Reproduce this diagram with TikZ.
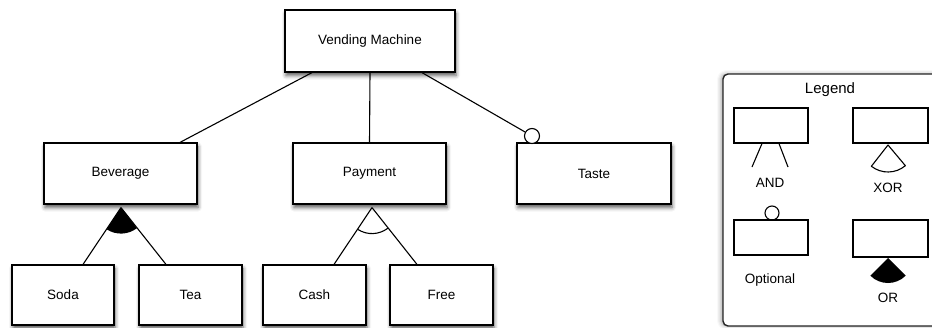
\documentclass[tikz,border=0pt]{standalone}
\usepackage{fontspec}
\setmainfont{Liberation Sans}
\usetikzlibrary{calc,shadows.blur}
\tikzset{
  feat/.style={draw=black, line width=1.2pt, fill=white, inner sep=0pt,
    font=\fontsize{13.5}{15}\selectfont,
    blur shadow={shadow xshift=1pt, shadow yshift=-3.5pt, shadow blur radius=4pt, shadow opacity=65}},
  legbox/.style={draw=black, line width=1.1pt, fill=white, inner sep=0pt, minimum width=74pt, minimum height=35pt},
  lbl/.style={font=\fontsize{13.5}{15}\selectfont, inner sep=0pt},
  conn/.style={line width=1.1pt, black},
  optc/.style={circle, draw=black, line width=1.1pt, fill=white, minimum size=15pt, inner sep=0pt},
}
\begin{document}
\begin{tikzpicture}[x=1pt,y=-1pt]
\useasboundingbox (0,0) rectangle (932,327);
% main nodes
\node[feat, minimum width=170pt, minimum height=62pt] (vm) at (370,41) {Vending Machine};
\node[feat, minimum width=153pt, minimum height=61pt] (bev) at (120.5,173.5) {Beverage};
\node[feat, minimum width=153pt, minimum height=61pt] (pay) at (369.5,173.5) {Payment};
\node[feat, minimum width=154pt, minimum height=61pt] (taste) at (594,173.5) {Taste};
\node[feat, minimum width=102pt, minimum height=60pt] (soda) at (63,295) {Soda};
\node[feat, minimum width=103pt, minimum height=60pt] (tea) at (190.5,295) {Tea};
\node[feat, minimum width=103pt, minimum height=60pt] (cash) at (314.5,295) {Cash};
\node[feat, minimum width=103pt, minimum height=60pt] (free) at (441.5,295) {Free};
% optional circle
\node[optc] (oc) at (532,136) {};
% connectors from root
\draw[conn] ([xshift=-58pt]vm.south) -- ([xshift=59.5pt]bev.north);
\draw[conn] (vm.south) -- (pay.north);
\draw[conn] ([xshift=52pt]vm.south) -- (oc);
% group apexes
\coordinate (bapex) at ([xshift=0.5pt,yshift=-3pt]bev.south);
\coordinate (papex) at ([xshift=2.5pt,yshift=-3pt]pay.south);
% OR group (Beverage)
\fill[black] (bapex) -- ++(236.8:26pt) arc[start angle=236.8, end angle=307.8, radius=26pt] -- cycle;
\draw[conn] (bapex) -- ([xshift=20pt]soda.north);
\draw[conn] (bapex) -- ([xshift=-24.5pt]tea.north);
% XOR group (Payment)
\draw[conn] (papex) ++(236.8:26pt) arc[start angle=236.8, end angle=307.8, radius=26pt];
\draw[conn] (papex) -- ([xshift=19.5pt]cash.north);
\draw[conn] (papex) -- ([xshift=-24.5pt]free.north);
% legend frame
\draw[line width=1.4pt, draw=black!85, fill=white, rounded corners=5pt,
  blur shadow={shadow xshift=-2pt, shadow yshift=0pt, shadow blur radius=4pt, shadow opacity=35}]
  (723,74) rectangle (960,326);
\node[lbl, font=\fontsize{15}{17}\selectfont] (legt) at (830,90) {Legend};
% AND
\node[legbox] (land) at (771,125.5) {};
\coordinate (and1) at (752,167);
\coordinate (and2) at (788,167);
\draw[conn] ([xshift=-9pt]land.south) -- (and1);
\draw[conn] ([xshift=8pt]land.south) -- (and2);
\node[lbl] (landt) at (770,183) {AND};
% XOR
\node[legbox, minimum width=75pt] (lxor) at (890.5,125.5) {};
\coordinate (xapex) at (888,145);
\draw[conn, line join=round] (xapex) -- ++(232:27pt) arc[start angle=232, end angle=310, radius=27pt] -- cycle;
\node[lbl] (lxort) at (888,188) {XOR};
% Optional
\node[optc, minimum size=14pt] (lopc) at (772,213) {};
\node[legbox] (lopt) at (771,237.5) {};
\node[lbl] (loptt) at (770,280) {Optional};
% OR
\node[legbox, minimum width=75pt, minimum height=37pt] (lor) at (890.5,238.5) {};
\coordinate (oapex) at (888,258);
\fill[black] (oapex) -- ++(225:25pt) arc[start angle=225, end angle=315, radius=25pt] -- cycle;
\node[lbl] (lort) at (888,298) {OR};
\end{tikzpicture}
\end{document}
